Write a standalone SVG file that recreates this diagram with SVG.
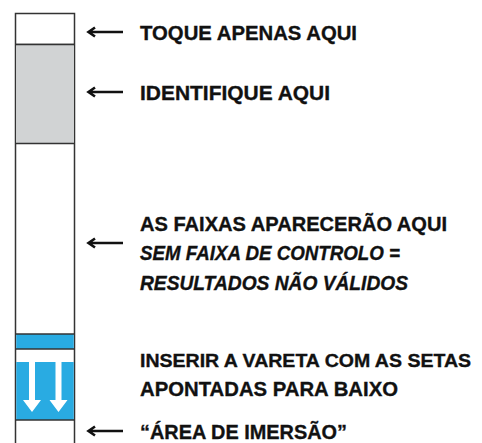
<svg xmlns="http://www.w3.org/2000/svg" width="482" height="443" viewBox="0 0 482 443">
<style>
.lbl{font-family:"Liberation Sans",Arial,sans-serif;font-weight:bold;font-size:21px;fill:#111;stroke:#111;stroke-width:0.35}
.it{font-style:italic}
.sm{font-size:19px}
.sep{stroke:#333;stroke-width:1.5;fill:none}
.conn{stroke:#111;stroke-width:2.6;fill:none;stroke-linejoin:miter}
.wa{fill:#fff}
</style>
<rect width="482" height="443" fill="#fff"/>
<g id="strip">
  <rect x="15.5" y="13.5" width="59" height="445" fill="#fff" class="sep"/>
</g>
<g id="touch-zone">
  <line class="sep" x1="15.5" y1="44.5" x2="74.5" y2="44.5"/>
</g>
<g id="id-zone">
  <rect x="16.25" y="44.5" width="57.5" height="99" fill="#D1D3D4"/>
  <line class="sep" x1="15.5" y1="44.5" x2="74.5" y2="44.5"/>
  <line class="sep" x1="15.5" y1="143.5" x2="74.5" y2="143.5"/>
</g>
<g id="dip-zone">
  <rect x="16.25" y="334" width="57.5" height="15" fill="#29ABE2"/>
  <rect x="16.25" y="362" width="57.5" height="58" fill="#29ABE2"/>
  <line class="sep" x1="15.5" y1="334" x2="74.5" y2="334"/>
  <line class="sep" x1="15.5" y1="349" x2="74.5" y2="349"/>
  <line class="sep" x1="15.5" y1="420" x2="74.5" y2="420"/>
  <polygon class="wa" points="29,361 35,361 35,400 41,400 32,412 23,400 29,400"/>
  <polygon class="wa" points="55.5,361 61.5,361 61.5,400 67.5,400 58.5,412 49.5,400 55.5,400"/>
</g>
<g id="connectors">
  <path class="conn" d="M123,32 H88.5 M95,27.5 L88.5,32 L95,36.5"/>
  <path class="conn" d="M123,92 H88.5 M95,87.5 L88.5,92 L95,96.5"/>
  <path class="conn" d="M123,243 H88.5 M95,238.5 L88.5,243 L95,247.5"/>
  <path class="conn" d="M123,431 H88.5 M95,426.5 L88.5,431 L95,435.5"/>
</g>
<g id="label-touch">
  <text class="lbl" x="140" y="39.5" textLength="217" lengthAdjust="spacingAndGlyphs">TOQUE APENAS AQUI</text>
</g>
<g id="label-id">
  <text class="lbl" x="140" y="99.5" textLength="190" lengthAdjust="spacingAndGlyphs">IDENTIFIQUE AQUI</text>
</g>
<g id="label-bands">
  <text class="lbl" x="140" y="230.5" textLength="307" lengthAdjust="spacingAndGlyphs">AS FAIXAS APARECERÃO AQUI</text>
  <text class="lbl it" x="140" y="260" textLength="260" lengthAdjust="spacingAndGlyphs">SEM FAIXA DE CONTROLO =</text>
  <text class="lbl it" x="140" y="289.5" textLength="268" lengthAdjust="spacingAndGlyphs">RESULTADOS NÃO VÁLIDOS</text>
</g>
<g id="label-insert">
  <text class="lbl sm" x="140" y="367" textLength="331" lengthAdjust="spacingAndGlyphs">INSERIR A VARETA COM AS SETAS</text>
  <text class="lbl" x="140" y="396" textLength="258" lengthAdjust="spacingAndGlyphs">APONTADAS PARA BAIXO</text>
</g>
<g id="label-dip">
  <text class="lbl" x="140" y="439" textLength="207" lengthAdjust="spacingAndGlyphs">“ÁREA DE IMERSÃO”</text>
</g>
</svg>
